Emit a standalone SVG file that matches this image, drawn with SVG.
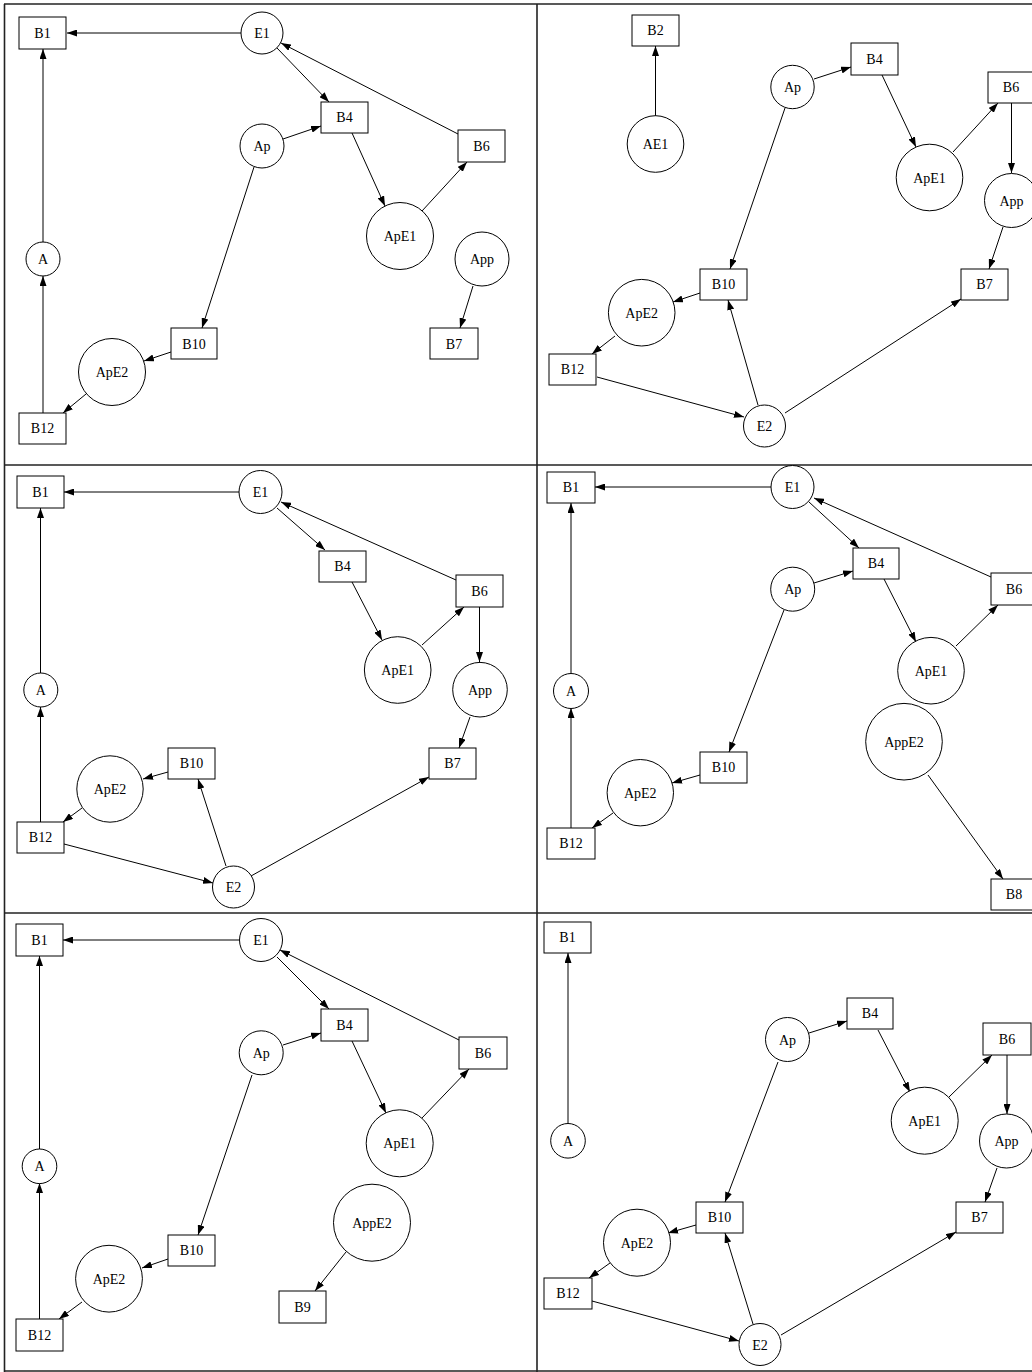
<svg xmlns="http://www.w3.org/2000/svg" width="1032" height="1372" viewBox="0 0 1032 1372">
<style>
.n{fill:#fff;stroke:#000;stroke-width:1}
.t{font-family:"Liberation Serif","Times New Roman",serif;font-size:14px;text-anchor:middle;fill:#000}
.e line{stroke:#000;stroke-width:1;marker-end:url(#ah)}
.f{stroke:#222;stroke-width:1.6;fill:none}
</style>
<defs>
<marker id="ah" markerUnits="userSpaceOnUse" markerWidth="10" markerHeight="7" refX="10" refY="3.5" orient="auto" viewBox="0 0 10 7">
<path d="M0,0 L10,3.5 L0,7 z" fill="#000"/>
</marker>
</defs>
<rect width="1032" height="1372" fill="#fff"/>
<g id="frame">
<line class="f" x1="4.5" y1="4" x2="4.5" y2="1372"/>
<line class="f" x1="4" y1="4" x2="1032" y2="4"/>
<line class="f" x1="537" y1="4" x2="537" y2="1372"/>
<line class="f" x1="4" y1="465" x2="1032" y2="465"/>
<line class="f" x1="4" y1="913" x2="1032" y2="913"/>
<line class="f" x1="4" y1="1371" x2="1032" y2="1371"/>
</g>

<!-- Panel 1 -->
<g id="panel1">
<g id="p1-edges" class="e">
<line x1="241" y1="33" x2="67" y2="33"/>
<line x1="43" y1="242" x2="43" y2="49"/>
<line x1="43" y1="413" x2="43" y2="276"/>
<line x1="277" y1="48" x2="329" y2="102"/>
<line x1="458" y1="134" x2="281" y2="43"/>
<line x1="283" y1="139" x2="321" y2="126"/>
<line x1="352" y1="133" x2="385" y2="206"/>
<line x1="422" y1="211" x2="467" y2="162"/>
<line x1="254" y1="167" x2="202" y2="328"/>
<line x1="171" y1="352" x2="144" y2="361"/>
<line x1="86" y1="394" x2="63" y2="413"/>
<line x1="473" y1="286" x2="460" y2="328"/>
</g>
<g id="p1-B1"><rect class="n" x="19" y="17" width="47" height="32"/><text class="t" x="42.5" y="38">B1</text></g>
<g id="p1-E1"><circle class="n" cx="262" cy="33" r="21"/><text class="t" x="262" y="38">E1</text></g>
<g id="p1-Ap"><circle class="n" cx="262" cy="146" r="22"/><text class="t" x="262" y="151">Ap</text></g>
<g id="p1-A"><circle class="n" cx="43" cy="259" r="17"/><text class="t" x="43" y="264">A</text></g>
<g id="p1-B10"><rect class="n" x="171" y="328" width="46" height="31"/><text class="t" x="194" y="348.5">B10</text></g>
<g id="p1-ApE2"><circle class="n" cx="112" cy="372" r="33.5"/><text class="t" x="112" y="377">ApE2</text></g>
<g id="p1-B12"><rect class="n" x="19" y="413" width="47" height="31"/><text class="t" x="42.5" y="433">B12</text></g>
<g id="p1-B4"><rect class="n" x="321" y="102" width="47" height="31"/><text class="t" x="344.5" y="122">B4</text></g>
<g id="p1-B6"><rect class="n" x="458" y="130" width="47" height="32"/><text class="t" x="481.5" y="151">B6</text></g>
<g id="p1-ApE1"><circle class="n" cx="400" cy="236" r="33.5"/><text class="t" x="400" y="241">ApE1</text></g>
<g id="p1-App"><circle class="n" cx="482" cy="259" r="27"/><text class="t" x="482" y="264">App</text></g>
<g id="p1-B7"><rect class="n" x="430" y="328" width="48" height="31"/><text class="t" x="454" y="348.5">B7</text></g>
</g>

<!-- Panel 2 -->
<g id="panel2">
<g id="p2-edges" class="e">
<line x1="655.5" y1="116" x2="655.5" y2="46"/>
<line x1="814" y1="79" x2="851" y2="67"/>
<line x1="882" y1="75" x2="916" y2="147"/>
<line x1="953" y1="152" x2="998" y2="103"/>
<line x1="1011.5" y1="103" x2="1011.5" y2="173"/>
<line x1="1003" y1="227" x2="989" y2="269"/>
<line x1="785" y1="413" x2="961" y2="299"/>
<line x1="785" y1="108" x2="730" y2="269"/>
<line x1="700" y1="293" x2="673" y2="302"/>
<line x1="615" y1="336" x2="592" y2="354"/>
<line x1="597" y1="377" x2="744" y2="417"/>
<line x1="758" y1="405" x2="728" y2="300"/>
</g>
<g id="p2-B2"><rect class="n" x="632" y="15" width="47" height="31"/><text class="t" x="655.5" y="35">B2</text></g>
<g id="p2-AE1"><circle class="n" cx="655.5" cy="144" r="28.3"/><text class="t" x="655.5" y="149">AE1</text></g>
<g id="p2-Ap"><circle class="n" cx="792.5" cy="87" r="21.7"/><text class="t" x="792.5" y="92">Ap</text></g>
<g id="p2-B4"><rect class="n" x="851" y="43" width="47" height="32"/><text class="t" x="874.5" y="64">B4</text></g>
<g id="p2-B6"><rect class="n" x="988" y="72" width="46" height="31"/><text class="t" x="1011" y="92">B6</text></g>
<g id="p2-ApE1"><circle class="n" cx="929.5" cy="177.5" r="33.3"/><text class="t" x="929.5" y="182.5">ApE1</text></g>
<g id="p2-App"><circle class="n" cx="1011.5" cy="200.5" r="27"/><text class="t" x="1011.5" y="205.5">App</text></g>
<g id="p2-B7"><rect class="n" x="961" y="269" width="47" height="31"/><text class="t" x="984.5" y="289">B7</text></g>
<g id="p2-B10"><rect class="n" x="700" y="269" width="47" height="31"/><text class="t" x="723.5" y="289">B10</text></g>
<g id="p2-ApE2"><circle class="n" cx="641.7" cy="312.7" r="33.3"/><text class="t" x="641.7" y="317.7">ApE2</text></g>
<g id="p2-B12"><rect class="n" x="549" y="354" width="47" height="31"/><text class="t" x="572.5" y="374">B12</text></g>
<g id="p2-E2"><circle class="n" cx="764.5" cy="426" r="21"/><text class="t" x="764.5" y="431">E2</text></g>
</g>

<!-- Panel 3 -->
<g id="panel3">
<g id="p3-edges" class="e">
<line x1="239" y1="492" x2="64" y2="492"/>
<line x1="40.5" y1="673" x2="40.5" y2="508"/>
<line x1="40.5" y1="822" x2="40.5" y2="707"/>
<line x1="277" y1="508" x2="325" y2="550"/>
<line x1="456" y1="580" x2="281" y2="502"/>
<line x1="352" y1="582" x2="382" y2="640"/>
<line x1="422" y1="645" x2="464" y2="607"/>
<line x1="479.5" y1="607" x2="479.5" y2="662"/>
<line x1="470" y1="717" x2="459" y2="748"/>
<line x1="251" y1="876" x2="429" y2="777"/>
<line x1="168" y1="772" x2="143" y2="779"/>
<line x1="82" y1="808" x2="63" y2="822"/>
<line x1="64" y1="844" x2="213" y2="883"/>
<line x1="226" y1="866" x2="198" y2="779"/>
</g>
<g id="p3-B1"><rect class="n" x="17" y="476" width="47" height="32"/><text class="t" x="40.5" y="497">B1</text></g>
<g id="p3-E1"><circle class="n" cx="260.5" cy="492" r="21.5"/><text class="t" x="260.5" y="497">E1</text></g>
<g id="p3-A"><circle class="n" cx="40.8" cy="690" r="17"/><text class="t" x="40.8" y="695">A</text></g>
<g id="p3-B10"><rect class="n" x="168" y="748" width="47" height="31"/><text class="t" x="191.5" y="768">B10</text></g>
<g id="p3-ApE2"><circle class="n" cx="110" cy="789" r="33.2"/><text class="t" x="110" y="794">ApE2</text></g>
<g id="p3-B12"><rect class="n" x="17" y="822" width="47" height="31"/><text class="t" x="40.5" y="842">B12</text></g>
<g id="p3-E2"><circle class="n" cx="233.5" cy="887" r="21"/><text class="t" x="233.5" y="892">E2</text></g>
<g id="p3-B4"><rect class="n" x="319" y="551" width="47" height="31"/><text class="t" x="342.5" y="571">B4</text></g>
<g id="p3-B6"><rect class="n" x="456" y="575" width="47" height="32"/><text class="t" x="479.5" y="596">B6</text></g>
<g id="p3-ApE1"><circle class="n" cx="397.7" cy="670" r="33.3"/><text class="t" x="397.7" y="675">ApE1</text></g>
<g id="p3-App"><circle class="n" cx="480" cy="689.7" r="27.3"/><text class="t" x="480" y="694.7">App</text></g>
<g id="p3-B7"><rect class="n" x="429" y="748" width="47" height="31"/><text class="t" x="452.5" y="768">B7</text></g>
</g>

<!-- Panel 4 -->
<g id="panel4">
<g id="p4-edges" class="e">
<line x1="771" y1="487" x2="595" y2="487"/>
<line x1="571" y1="673" x2="571" y2="503"/>
<line x1="571" y1="828" x2="571" y2="708"/>
<line x1="809" y1="502" x2="859" y2="548"/>
<line x1="991" y1="577" x2="814" y2="498"/>
<line x1="814" y1="583" x2="853" y2="571"/>
<line x1="884" y1="579" x2="916" y2="642"/>
<line x1="956" y1="646" x2="998" y2="605"/>
<line x1="928" y1="775" x2="1003" y2="879"/>
<line x1="784" y1="610" x2="729" y2="752"/>
<line x1="700" y1="775" x2="672" y2="783"/>
<line x1="613" y1="813" x2="592" y2="828"/>
</g>
<g id="p4-B1"><rect class="n" x="547" y="472" width="48" height="31"/><text class="t" x="571" y="492">B1</text></g>
<g id="p4-E1"><circle class="n" cx="792.5" cy="487" r="21.5"/><text class="t" x="792.5" y="492">E1</text></g>
<g id="p4-Ap"><circle class="n" cx="792.7" cy="589.2" r="22"/><text class="t" x="792.7" y="594.2">Ap</text></g>
<g id="p4-A"><circle class="n" cx="571" cy="691" r="17.5"/><text class="t" x="571" y="696">A</text></g>
<g id="p4-B10"><rect class="n" x="700" y="752" width="47" height="31"/><text class="t" x="723.5" y="772">B10</text></g>
<g id="p4-ApE2"><circle class="n" cx="640.3" cy="792.7" r="33.2"/><text class="t" x="640.3" y="797.7">ApE2</text></g>
<g id="p4-B12"><rect class="n" x="547" y="828" width="48" height="31"/><text class="t" x="571" y="848">B12</text></g>
<g id="p4-B4"><rect class="n" x="853" y="548" width="46" height="31"/><text class="t" x="876" y="568">B4</text></g>
<g id="p4-B6"><rect class="n" x="991" y="573" width="47" height="32"/><text class="t" x="1014" y="594">B6</text></g>
<g id="p4-ApE1"><circle class="n" cx="931" cy="670.7" r="33.3"/><text class="t" x="931" y="675.7">ApE1</text></g>
<g id="p4-AppE2"><circle class="n" cx="904" cy="741.7" r="38.3"/><text class="t" x="904" y="746.7">AppE2</text></g>
<g id="p4-B8"><rect class="n" x="991" y="879" width="47" height="31"/><text class="t" x="1014" y="899">B8</text></g>
</g>

<!-- Panel 5 -->
<g id="panel5">
<g id="p5-edges" class="e">
<line x1="239.5" y1="940" x2="63" y2="940"/>
<line x1="39.5" y1="1149" x2="39.5" y2="956"/>
<line x1="39.5" y1="1319" x2="39.5" y2="1183"/>
<line x1="277" y1="957" x2="329" y2="1009"/>
<line x1="459" y1="1040" x2="280" y2="950"/>
<line x1="283" y1="1045" x2="321" y2="1033"/>
<line x1="352" y1="1041" x2="386" y2="1113"/>
<line x1="422" y1="1118" x2="469" y2="1069"/>
<line x1="346" y1="1252" x2="315" y2="1291"/>
<line x1="252" y1="1075" x2="198" y2="1235"/>
<line x1="168" y1="1259" x2="142" y2="1268"/>
<line x1="82" y1="1302" x2="59" y2="1319"/>
</g>
<g id="p5-B1"><rect class="n" x="16" y="924" width="47" height="32"/><text class="t" x="39.5" y="945">B1</text></g>
<g id="p5-E1"><circle class="n" cx="261" cy="940" r="21.5"/><text class="t" x="261" y="945">E1</text></g>
<g id="p5-Ap"><circle class="n" cx="261.2" cy="1052.8" r="22"/><text class="t" x="261.2" y="1057.8">Ap</text></g>
<g id="p5-A"><circle class="n" cx="39.5" cy="1166.3" r="17.3"/><text class="t" x="39.5" y="1171.3">A</text></g>
<g id="p5-B10"><rect class="n" x="168" y="1235" width="47" height="31"/><text class="t" x="191.5" y="1255">B10</text></g>
<g id="p5-ApE2"><circle class="n" cx="109" cy="1278.7" r="33.4"/><text class="t" x="109" y="1283.7">ApE2</text></g>
<g id="p5-B12"><rect class="n" x="16" y="1319" width="47" height="32"/><text class="t" x="39.5" y="1340">B12</text></g>
<g id="p5-B4"><rect class="n" x="321" y="1009" width="47" height="32"/><text class="t" x="344.5" y="1030">B4</text></g>
<g id="p5-B6"><rect class="n" x="459" y="1037" width="48" height="32"/><text class="t" x="483" y="1058">B6</text></g>
<g id="p5-ApE1"><circle class="n" cx="399.7" cy="1143.3" r="33.5"/><text class="t" x="399.7" y="1148.3">ApE1</text></g>
<g id="p5-AppE2"><circle class="n" cx="372" cy="1222.7" r="38.5"/><text class="t" x="372" y="1227.7">AppE2</text></g>
<g id="p5-B9"><rect class="n" x="279" y="1291" width="47" height="32"/><text class="t" x="302.5" y="1312">B9</text></g>
</g>

<!-- Panel 6 -->
<g id="panel6">
<g id="p6-edges" class="e">
<line x1="568" y1="1123" x2="568" y2="953"/>
<line x1="809" y1="1033" x2="847" y2="1021"/>
<line x1="878" y1="1030" x2="910" y2="1092"/>
<line x1="949" y1="1097" x2="992" y2="1055"/>
<line x1="1007" y1="1055" x2="1007" y2="1114"/>
<line x1="997" y1="1168" x2="985" y2="1202"/>
<line x1="781" y1="1335" x2="956" y2="1232"/>
<line x1="778" y1="1062" x2="725" y2="1202"/>
<line x1="696" y1="1225" x2="668" y2="1233"/>
<line x1="610" y1="1263" x2="589" y2="1278"/>
<line x1="592" y1="1301" x2="739" y2="1341"/>
<line x1="753" y1="1324" x2="725" y2="1233"/>
</g>
<g id="p6-B1"><rect class="n" x="544" y="922" width="47" height="31"/><text class="t" x="567.5" y="942">B1</text></g>
<g id="p6-A"><circle class="n" cx="568" cy="1140.8" r="17.3"/><text class="t" x="568" y="1145.8">A</text></g>
<g id="p6-Ap"><circle class="n" cx="787.5" cy="1039.5" r="22"/><text class="t" x="787.5" y="1044.5">Ap</text></g>
<g id="p6-B10"><rect class="n" x="696" y="1202" width="47" height="31"/><text class="t" x="719.5" y="1222">B10</text></g>
<g id="p6-ApE2"><circle class="n" cx="637" cy="1242.7" r="33.5"/><text class="t" x="637" y="1247.7">ApE2</text></g>
<g id="p6-B12"><rect class="n" x="544" y="1278" width="48" height="31"/><text class="t" x="568" y="1298">B12</text></g>
<g id="p6-E2"><circle class="n" cx="760" cy="1344.5" r="21"/><text class="t" x="760" y="1349.5">E2</text></g>
<g id="p6-B4"><rect class="n" x="847" y="998" width="46" height="31"/><text class="t" x="870" y="1018">B4</text></g>
<g id="p6-B6"><rect class="n" x="983" y="1023" width="48" height="32"/><text class="t" x="1007" y="1044">B6</text></g>
<g id="p6-ApE1"><circle class="n" cx="924.7" cy="1120.7" r="33.5"/><text class="t" x="924.7" y="1125.7">ApE1</text></g>
<g id="p6-App"><circle class="n" cx="1006.5" cy="1141" r="27"/><text class="t" x="1006.5" y="1146">App</text></g>
<g id="p6-B7"><rect class="n" x="956" y="1202" width="47" height="31"/><text class="t" x="979.5" y="1222">B7</text></g>
</g>
</svg>
